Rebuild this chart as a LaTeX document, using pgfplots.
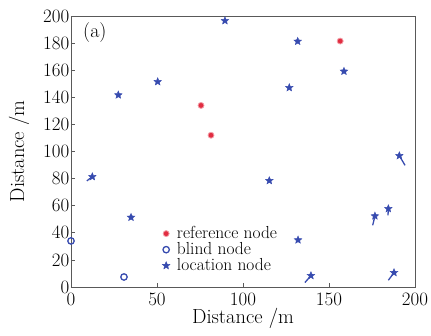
\documentclass[border=0pt]{standalone}
\usepackage{pgfplots}
\pgfplotsset{compat=1.18}
\definecolor{nblue}{RGB}{55,75,175}
\definecolor{nred}{RGB}{225,45,65}
\pgfdeclareplotmark{fstar}{%
  \pgfpathmoveto{\pgfpointpolar{90}{\pgfplotmarksize}}%
  \pgfpathlineto{\pgfpointpolar{126}{0.45\pgfplotmarksize}}%
  \pgfpathlineto{\pgfpointpolar{162}{\pgfplotmarksize}}%
  \pgfpathlineto{\pgfpointpolar{198}{0.45\pgfplotmarksize}}%
  \pgfpathlineto{\pgfpointpolar{234}{\pgfplotmarksize}}%
  \pgfpathlineto{\pgfpointpolar{270}{0.45\pgfplotmarksize}}%
  \pgfpathlineto{\pgfpointpolar{306}{\pgfplotmarksize}}%
  \pgfpathlineto{\pgfpointpolar{342}{0.45\pgfplotmarksize}}%
  \pgfpathlineto{\pgfpointpolar{18}{\pgfplotmarksize}}%
  \pgfpathlineto{\pgfpointpolar{54}{0.45\pgfplotmarksize}}%
  \pgfpathclose
  \pgfusepathqfillstroke
}
\begin{document}
\begin{tikzpicture}
\begin{axis}[
  scale only axis, width=344bp, height=271bp,
  xmin=0, xmax=200, ymin=0, ymax=200,
  xtick={0,50,...,200}, ytick={0,20,...,200},
  tick align=inside, tick pos=left,
  axis line style={draw=black!65, line width=1pt},
  major tick length=4bp,
  tick style={black!65, line width=0.8pt},
  /pgf/number format/assume math mode=true,
  ticklabel style={font=\fontsize{19}{21}\selectfont},
  yticklabel style={inner xsep=1.5pt},
  xticklabel style={inner ysep=0pt, yshift=-6pt},
  label style={font=\fontsize{20.5}{23}\selectfont},
  xlabel={Distance /m}, ylabel={Distance /m},
  xlabel style={yshift=-2pt, inner ysep=0pt},
  ylabel style={yshift=9pt},
  legend style={at={(axis cs:53,45.5)}, anchor=north west, draw=none, fill=none,
    font=\fontsize{17.5}{18}\selectfont, row sep=0pt, inner sep=0pt,
    nodes={inner xsep=3pt, inner ysep=1.2pt},
    /tikz/every odd column/.append style={column sep=4pt}},
  legend cell align=left,
]
\coordinate (bl) at (rel axis cs:0,0);
\coordinate (tr) at (rel axis cs:1,1);
\addplot[only marks, mark=*, mark size=3bp, draw=nred!45, fill=nred, line width=0.8pt]
  coordinates {(75.6,134) (81.4,112) (156.5,181.5)};
\addlegendentry{reference node}
\addplot[only marks, mark=o, mark size=3.2bp, draw=nblue, line width=1.3pt]
  coordinates {(0,34) (30.8,7.4)};
\addlegendentry{blind node}
\addplot[only marks, mark=fstar, mark size=4bp, draw=nblue, fill=nblue, line width=0.4pt]
  coordinates {(89.5,196.5) (50.4,151.5) (27.5,141.7) (131.8,181.3) (158.7,159.2)
   (126.9,147.1) (12.4,81.4) (34.9,51.4) (115.3,78.5) (132,34.7) (139.5,8.4)
   (187.8,10.6) (176.7,52.4) (184.5,57.8) (190.9,96.9)};
\addlegendentry{location node}
\addplot[nblue, line width=1.3pt, forget plot] coordinates {(12.4,81.4) (9.2,78.3)};
\addplot[nblue, line width=1.3pt, forget plot] coordinates {(139.5,8.4) (136,3.3)};
\addplot[nblue, line width=1.3pt, forget plot] coordinates {(187.8,10.6) (184.5,5.0)};
\addplot[nblue, line width=1.3pt, forget plot] coordinates {(176.7,52.4) (175.4,45.5)};
\addplot[nblue, line width=1.3pt, forget plot] coordinates {(184.5,57.8) (184.3,52.8)};
\addplot[nblue, line width=1.3pt, forget plot] coordinates {(190.9,96.9) (194.2,89.8)};
\node[anchor=north west, font=\fontsize{20}{22}\selectfont, inner sep=0pt] at (axis cs:7,195) {(a)};
\end{axis}
\pgfresetboundingbox
\path ([xshift=-71bp,yshift=-49bp]bl) rectangle ([xshift=16bp,yshift=16bp]tr);
\end{tikzpicture}
\end{document}
